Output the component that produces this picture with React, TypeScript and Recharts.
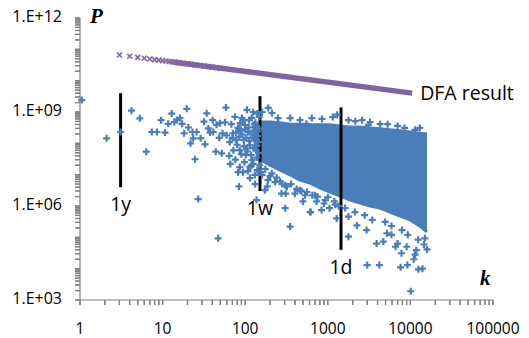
import {
  Area,
  ComposedChart,
  ReferenceDot,
  ReferenceLine,
  Scatter,
  XAxis,
  YAxis,
} from "recharts";

const BLUE = "#4a7ebb";
const PURPLE = "#8064a2";
const AXIS = "#7f7f7f";
const FONT = "'Open Sans', 'Liberation Sans', sans-serif";

// dense body of the scatter: envelope of the solid blob
const blobK = [130, 150, 200, 265, 350, 460, 610, 800, 1060, 1400, 1860, 2450, 3250, 4300, 5650, 7500, 9900, 13000, 15900];
const blobHigh = [2.2e8, 4.8e8, 4.8e8, 4.5e8, 4.1e8, 4.1e8, 3.9e8, 3.9e8, 3.9e8, 3.6e8, 3.3e8, 3.3e8, 3.1e8, 2.9e8, 2.7e8, 2.5e8, 2.3e8, 2.1e8, 2.0e8];
const blobLow = [1.2e8, 3.0e7, 2.0e7, 1.4e7, 9.8e6, 6.7e6, 5.4e6, 3.8e6, 2.8e6, 2.1e6, 1.55e6, 1.24e6, 1.0e6, 8.6e5, 6.4e5, 4.8e5, 3.6e5, 2.3e5, 1.5e5];

// sparse points [k, P]
const leftPoints: [number, number][] = [
  [1.05, 2.4e9], [2.1, 1.45e8], [3.1, 2.3e8], [4.2, 1.1e9], [5.3, 6.3e8], [6.35, 5.4e7],
  [7.4, 2.3e8], [8.55, 2.3e8], [9.6, 5.5e8], [10.7, 2.2e8], [11.7, 4.2e8], [12.9, 8.9e8],
  [13.9, 4.8e8], [14.9, 5.6e8], [16.2, 6.4e8], [17.2, 4.2e8], [18.2, 2.1e8], [19.6, 1.26e9],
  [20.5, 3.2e8], [21.8, 1.0e8], [23, 2.3e8], [23.5, 1.45e8], [24.7, 3.1e7], [25.8, 2.3e8],
  [27, 1.66e6], [28.9, 1.45e8], [31.7, 4.9e8], [32.6, 9.3e7], [34.2, 9.1e8], [35.8, 3.0e8],
  [37.5, 2.2e8], [40.4, 5.5e8], [41, 2.3e8], [44, 5.4e7], [45, 3.9e8], [47, 9.3e4],
  [48.5, 1.5e8], [49.4, 4.4e8], [52, 4.8e7], [53, 2.1e8], [57, 4.7e8], [58.5, 1.38e9],
  [59.5, 1.8e8], [64, 4.0e7], [65, 1.1e8], [66, 2.2e7], [68, 4.1e8], [71, 2.1e8],
  [75, 7e8], [76, 3.0e7], [82, 1.2e7], [83, 3.0e8], [84, 4.2e6], [86, 1.75e7], [87, 4.4e8],
  [95, 5.5e8], [104, 6.9e7], [114, 1.75e7],
];

const clusterPoints: [number, number][] = [
  [91, 6.4e8], [99, 3.85e8], [108, 2.3e8], [96, 1.28e8], [114, 8.8e7], [102, 4.3e7],
  [121, 2.9e7], [86, 6.1e7], [131, 1.85e8], [111, 5.5e8], [125, 1.0e9], [82, 3.1e8],
  [77, 1.28e8], [135, 6.1e7], [140, 1.4e7], [114, 7.8e6], [94, 1.2e7], [144, 1.1e8],
  [127, 3.3e8], [105, 1.17e9], [131, 9.8e6], [137, 1.55e6], [160, 1.0e9], [190, 1.35e9],
  [211, 9.3e8], [250, 6.4e8], [160, 9.8e6], [185, 4.2e6], [189, 6.7e6], [230, 5.8e6],
  [173, 3.2e6], [265, 6.1e6], [275, 2.5e6], [305, 4.6e6], [310, 2.5e6], [400, 2.5e6],
  [500, 1.4e6], [530, 2.2e6], [620, 6.4e5], [730, 1.4e6],
  [70, 1.5e8], [72, 6e7], [78, 2.2e8], [80, 9e7], [85, 1.6e8], [88, 2.6e8], [90, 4.5e7],
  [92, 1.9e8], [97, 8e7], [100, 2.8e8], [103, 1.5e8], [106, 5.5e7], [110, 3.2e8], [112, 1.2e8],
  [116, 2.1e8], [118, 4.2e7], [120, 6.5e8], [123, 1.5e8], [126, 7e7], [128, 2.5e8], [133, 4.5e8],
  [136, 1.3e8], [138, 3.5e7], [142, 2.4e8], [145, 5e7], [148, 7e8], [118, 1.9e7], [125, 2.2e7],
  [98, 2.5e7], [108, 1.3e7], [132, 5e6], [150, 2e7], [155, 1.2e7], [175, 1.5e7], [200, 9e6],
  [210, 1.1e7], [240, 8e6], [280, 5e6], [320, 4.2e6], [360, 5e6], [420, 3.5e6], [480, 3e6],
  [560, 2.8e6], [650, 2.2e6], [750, 2.0e6], [900, 1.2e6], [1000, 1.9e6], [1200, 1.4e6], [1350, 1.0e6],
  [138, 3.6e8], [134, 2.6e8], [129, 4.0e8], [141, 1.7e8], [146, 3.0e8], [139, 8.5e7],
];

const upperFringe: [number, number][] = [
  [140, 9e8], [350, 6.4e8], [460, 5.5e8], [550, 4.2e8], [640, 6.4e8], [850, 6e8],
  [1150, 6.9e8], [1300, 8.2e8], [1780, 5.5e8], [2150, 5.1e8], [2600, 5.5e8], [3100, 3.9e8],
  [3250, 4.8e8], [4300, 4.1e8], [5300, 4.1e8], [7000, 3.6e8], [8500, 3.1e8], [11400, 2.7e8],
  [13000, 3.1e8],
];

const lowerFringe: [number, number][] = [
  [305, 8.5e5], [350, 2.2e5], [460, 3.2e6], [610, 6.4e5], [700, 2.2e6], [840, 7.4e5],
  [930, 1.55e6], [1050, 8.5e5], [1230, 1.1e6], [1280, 4.0e5], [1620, 8.6e5], [1780, 4.6e5],
  [1780, 1.05e5], [2130, 6.4e5], [2250, 2.4e5], [2800, 5.1e5], [2950, 1.7e5], [3450, 3.6e5],
  [3900, 6.3e4], [4700, 7.3e4], [4950, 3.1e5], [5200, 1.35e5], [5900, 2.3e5], [5900, 1.2e5],
  [6600, 5.0e4], [7000, 6.3e4], [7800, 3.1e4], [7900, 1.7e5], [9000, 5.0e4], [9300, 1.2e5],
  [11400, 2.8e4], [11800, 3.9e4], [12400, 8.4e4], [14600, 5.9e4], [15000, 9.3e4], [15900, 4.1e4],
  [3000, 1.3e4], [4200, 1.3e4], [7600, 1.1e4], [9200, 1.3e4], [11000, 2e4], [12500, 9.5e3],
  [14000, 1.0e4], [10100, 1.9e3],
];

// DFA result: sparse markers at small k, then a solid band
const dfaK = [3, 4, 5, 6, 7, 8, 9, 10, 11, 12, 13, 14, 15, 16, 18, 20, 22, 25, 28, 32, 36, 40, 45, 50];
const dfaP = [6.6e10, 6.0e10, 5.55e10, 5.2e10, 4.93e10, 4.71e10, 4.53e10, 4.37e10, 4.23e10, 4.1e10, 3.99e10, 3.89e10, 3.8e10, 3.72e10, 3.57e10, 3.44e10, 3.33e10, 3.18e10, 3.06e10, 2.92e10, 2.81e10, 2.71e10, 2.6e10, 2.51e10];
const dfaBandK = [14, 10500];
const dfaBandP = [3.89e10, 4.0e9];

// period markers
const periods = [
  { name: "1y", k: 3.1, top: 4.0e9, bottom: 4.0e6 },
  { name: "1w", k: 151, top: 3.2e9, bottom: 3.0e6 },
  { name: "1d", k: 1445, top: 1.4e9, bottom: 4.0e4 },
];

const xDecades = [1, 10, 100, 1000, 10000];
const yDecades = [1e3, 1e4, 1e5, 1e6, 1e7, 1e8, 1e9, 1e10, 1e11];
const yLabelled = [1e3, 1e6, 1e9, 1e12];
const multipliers = [1, 2, 3, 4, 5, 6, 7, 8, 9];

const xTicks = [...xDecades.flatMap((d) => multipliers.map((m) => m * d)), 100000];
const yTicks = [...yDecades.flatMap((d) => multipliers.map((m) => m * d)), 1e12];
const xLabelTicks = [...xDecades, 100000];

const blobData = blobK.map((k, i) => ({ k, range: [blobLow[i], blobHigh[i]] }));
const toPts = (arr: [number, number][]) => arr.map(([k, P]) => ({ k, P }));
const bluePoints = [...toPts(leftPoints), ...toPts(clusterPoints), ...toPts(upperFringe), ...toPts(lowerFringe)];
const dfaPoints = dfaK.map((k, i) => ({ k, P: dfaP[i] }));
const dfaBand = dfaBandK.map((k, i) => ({ k, P: dfaBandP[i] }));

const near = (list: number[], v: number) => list.some((t) => Math.abs(t - v) / t < 1e-9);

const Plus = (props: any) => {
  const { cx, cy } = props;
  if (cx == null || cy == null) return <g />;
  const s = 3.5;
  return (
    <path
      d={`M${cx - s},${cy}H${cx + s}M${cx},${cy - s}V${cy + s}`}
      stroke={BLUE}
      strokeWidth={2.2}
    />
  );
};

const Cross = (props: any) => {
  const { cx, cy } = props;
  if (cx == null || cy == null) return <g />;
  const s = 2.5;
  return (
    <path
      d={`M${cx - s},${cy - s}L${cx + s},${cy + s}M${cx - s},${cy + s}L${cx + s},${cy - s}`}
      stroke={PURPLE}
      strokeWidth={1.6}
    />
  );
};

const NoShape = () => <g />;

// tick mark drawn from a reference line's label box (left end of a horizontal line)
const YTickMark = (props: any) => {
  const vb = props.viewBox;
  if (!vb) return null;
  return <path d={`M${vb.x - 5},${vb.y}H${vb.x}`} stroke={AXIS} strokeWidth={1.2} fill="none" />;
};

// tick mark below the plot for a vertical reference line
const XTickMark = (props: any) => {
  const vb = props.viewBox;
  if (!vb) return null;
  const yb = vb.y + vb.height;
  return <path d={`M${vb.x},${yb}V${yb + 5}`} stroke={AXIS} strokeWidth={1.2} fill="none" />;
};

const XLabel = (props: any) => {
  const { x, y, payload } = props;
  if (!near(xLabelTicks, payload.value)) return <g />;
  return (
    <text x={x} y={Number(y) + 23} textAnchor="middle" dominantBaseline="central" fontSize={15.5} fontFamily={FONT} fill="#000">
      {payload.value}
    </text>
  );
};

const YLabel = (props: any) => {
  const { x, y, payload } = props;
  if (!near(yLabelled, payload.value)) return <g />;
  const exp = Math.round(Math.log10(payload.value));
  return (
    <text x={Number(x) - 13} y={Number(y) - 2} textAnchor="end" dominantBaseline="central" fontSize={16} fontFamily={FONT} fill="#000">
      {`1.E+${String(exp).padStart(2, "0")}`}
    </text>
  );
};

const annot = { fill: "#000", fontSize: 19.5, fontFamily: FONT };

export default function App() {
  return (
    <div style={{ position: "absolute", left: 0, top: 0, width: 529, height: 338, background: "#fff" }}>
      <ComposedChart width={529} height={338} data={blobData} margin={{ top: 18, right: 36, bottom: 8, left: 0 }}>
        <XAxis
          type="number"
          dataKey="k"
          scale="log"
          domain={[1, 100000]}
          ticks={xTicks}
          interval={0}
          minTickGap={0}
          tick={<XLabel />}
          tickLine={{ stroke: AXIS, strokeWidth: 1.2 }}
          tickSize={5}
          tickMargin={0}
          height={30}
          axisLine={{ stroke: AXIS, strokeWidth: 1.2 }}
        />
        <YAxis
          type="number"
          dataKey="P"
          scale="log"
          domain={[1e3, 1e12]}
          ticks={yTicks}
          interval={0}
          minTickGap={0}
          tick={<YLabel />}
          tickLine={{ stroke: AXIS, strokeWidth: 1.2 }}
          tickSize={5}
          tickMargin={0}
          width={80}
          axisLine={{ stroke: AXIS, strokeWidth: 1.2 }}
        />
        {yTicks.map((v) => (
          <ReferenceLine key={`yt${v}`} y={v} stroke="none" ifOverflow="visible" label={<YTickMark />} />
        ))}
        {xTicks.map((v) => (
          <ReferenceLine key={`xt${v}`} x={v} stroke="none" ifOverflow="visible" label={<XTickMark />} />
        ))}
        <Area
          dataKey="range"
          type="linear"
          stroke={BLUE}
          strokeWidth={3}
          fill={BLUE}
          fillOpacity={1}
          dot={false}
          activeDot={false}
          isAnimationActive={false}
        />
        <Scatter data={bluePoints} shape={<Plus />} isAnimationActive={false} />
        <Scatter
          data={dfaBand}
          shape={<NoShape />}
          line={{ stroke: PURPLE, strokeWidth: 5.5 }}
          isAnimationActive={false}
        />
        <Scatter data={dfaPoints} shape={<Cross />} isAnimationActive={false} />
        {periods.map((p) => (
          <ReferenceLine
            key={p.name}
            segment={[
              { x: p.k, y: p.top },
              { x: p.k, y: p.bottom },
            ]}
            stroke="#000"
            strokeWidth={3}
            label={{ value: p.name, position: "bottom", offset: 10, ...annot }}
          />
        ))}
        <ReferenceDot
          x={10500}
          y={4.0e9}
          r={0}
          stroke="none"
          fill="none"
          label={{ value: "DFA result", position: "right", offset: 8, ...annot }}
        />
      </ComposedChart>
      <svg width={529} height={338} style={{ position: "absolute", left: 0, top: 0, pointerEvents: "none" }}>
        <text x={90} y={23} fontFamily="'Liberation Serif', serif" fontWeight="bold" fontStyle="italic" fontSize={21} fill="#000">
          P
        </text>
        <text x={480} y={285} fontFamily="'Liberation Serif', serif" fontWeight="bold" fontStyle="italic" fontSize={21} fill="#000">
          k
        </text>
      </svg>
    </div>
  );
}
